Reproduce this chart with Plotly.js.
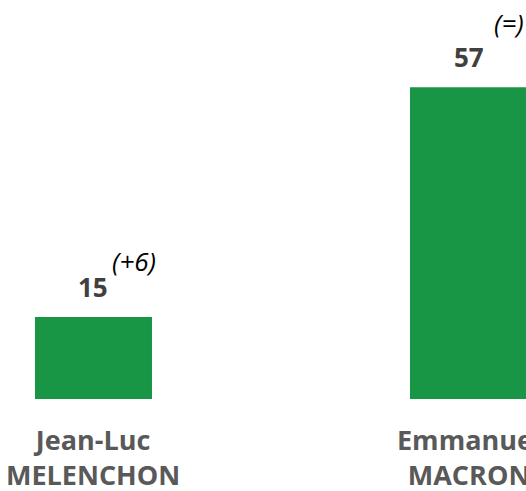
<!DOCTYPE html>
<html>
<head>
<meta charset="utf-8">
<script src="https://cdn.plot.ly/plotly-3.0.1.min.js"></script>
<style>html,body{margin:0;padding:0;background:#fff;}#chart{width:526px;height:491px;}</style>
</head>
<body>
<div id="chart"></div>
<script>
const categories = ["Jean-Luc<br>MELENCHON", "Emmanuel<br>MACRON"];
const values = [15, 57];
const changes = ["(+6)", "(=)"];

const xs = categories.map((c, i) => i);
const changeOffsets = [[41, 56], [40, 64]];

const annotations = [];
xs.forEach((x, i) => {
  annotations.push({
    x: x, y: values[i], xref: 'x', yref: 'y',
    text: String(values[i]), showarrow: false,
    yanchor: 'middle', yshift: 30,
    font: {family: 'Open Sans', size: 26, color: '#404040', weight: 'bold'}
  });
  annotations.push({
    x: x, y: values[i], xref: 'x', yref: 'y',
    text: '<i>' + changes[i] + '</i>', showarrow: false,
    yanchor: 'middle', xshift: changeOffsets[i][0], yshift: changeOffsets[i][1],
    font: {family: 'Open Sans', size: 26, color: '#000000'}
  });
  annotations.push({
    x: x, y: 0, xref: 'x', yref: 'y',
    text: '<b>' + categories[i] + '</b>', showarrow: false,
    yanchor: 'top', yshift: -20,
    font: {family: 'Open Sans', size: 27, color: '#595959'}
  });
});

const trace = {
  type: 'bar', x: xs, y: values, width: 0.312,
  marker: {color: '#189645'}, hoverinfo: 'none'
};

const layout = {
  width: 526, height: 491,
  margin: {l: 0, r: 0, t: 0, b: 92},
  paper_bgcolor: '#ffffff', plot_bgcolor: '#ffffff',
  showlegend: false,
  xaxis: {range: [-0.2493, 1.1533], showgrid: false, zeroline: false, showticklabels: false, showline: false},
  yaxis: {range: [0, 72.94], showgrid: false, zeroline: false, showticklabels: false, showline: false},
  annotations: annotations
};

Plotly.newPlot('chart', [trace], layout, {staticPlot: true, displayModeBar: false});
</script>
</body>
</html>
